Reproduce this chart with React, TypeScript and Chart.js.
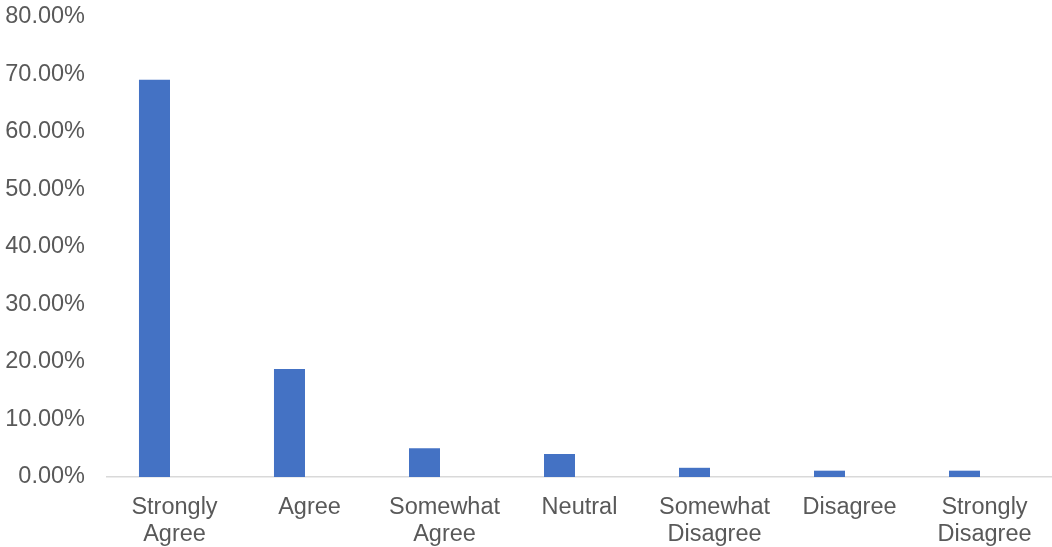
import { useEffect, useRef } from "react";
import { Chart, registerables } from "chart.js";

Chart.register(...registerables);

// Response categories (two-line labels, as drawn under the axis)
const categories: string[][] = [
  ["Strongly", "Agree"],
  ["Agree"],
  ["Somewhat", "Agree"],
  ["Neutral"],
  ["Somewhat", "Disagree"],
  ["Disagree"],
  ["Strongly", "Disagree"],
];

// Share of responses per category (fraction of 1)
const responseShare: number[] = [0.691, 0.188, 0.05, 0.04, 0.016, 0.011, 0.011];

// Empty companion series, keeps each bar in the left slot of its category
const companionSeries: (number | null)[] = [null, null, null, null, null, null, null];

// Y axis range and step
const yMin = 0;
const yMax = 0.8;
const yStep = 0.1;

const TEXT_COLOR = "#595959";
const BAR_COLOR = "#4472C4";
const AXIS_COLOR = "#D9D9D9";
const FONT_FAMILY = "'Liberation Sans', Arial, sans-serif";

export default function App() {
  const canvasRef = useRef<HTMLCanvasElement | null>(null);

  useEffect(() => {
    const canvas = canvasRef.current;
    if (!canvas) return;

    const chart = new Chart(canvas, {
      type: "bar",
      data: {
        labels: categories,
        datasets: [
          {
            label: "Responses",
            data: responseShare,
            backgroundColor: BAR_COLOR,
            borderWidth: 0,
            categoryPercentage: 0.593,
            barPercentage: 0.775,
          },
          {
            label: "",
            data: companionSeries,
            backgroundColor: BAR_COLOR,
            borderWidth: 0,
            categoryPercentage: 0.593,
            barPercentage: 0.775,
          },
        ],
      },
      options: {
        responsive: false,
        animation: false,
        devicePixelRatio: 1,
        layout: { padding: { left: 0, right: 0, top: 0, bottom: 0 } },
        plugins: {
          legend: { display: false },
          tooltip: { enabled: false },
        },
        scales: {
          x: {
            grid: { display: false, drawTicks: false },
            border: { display: true, color: AXIS_COLOR, width: 1.5 },
            ticks: {
              color: TEXT_COLOR,
              font: { family: FONT_FAMILY, size: 23.5, lineHeight: 1.15 },
              padding: 17,
              maxRotation: 0,
              autoSkip: false,
            },
            afterFit: (scale: any) => {
              scale.height = 70;
            },
          },
          y: {
            min: yMin,
            max: yMax,
            grid: { display: false, drawTicks: false },
            border: { display: false },
            ticks: {
              stepSize: yStep,
              color: TEXT_COLOR,
              font: { family: FONT_FAMILY, size: 23.5 },
              padding: 22,
              callback: (v: any) => (Number(v) * 100).toFixed(2) + "%",
            },
            afterFit: (scale: any) => {
              scale.width = 107;
              scale.paddingTop = 17;
            },
          },
        },
      },
    });

    return () => chart.destroy();
  }, []);

  return (
    <div
      style={{
        position: "fixed",
        left: 0,
        top: 0,
        width: 1052,
        height: 547,
        background: "#ffffff",
      }}
    >
      <canvas ref={canvasRef} width={1052} height={547} />
    </div>
  );
}
